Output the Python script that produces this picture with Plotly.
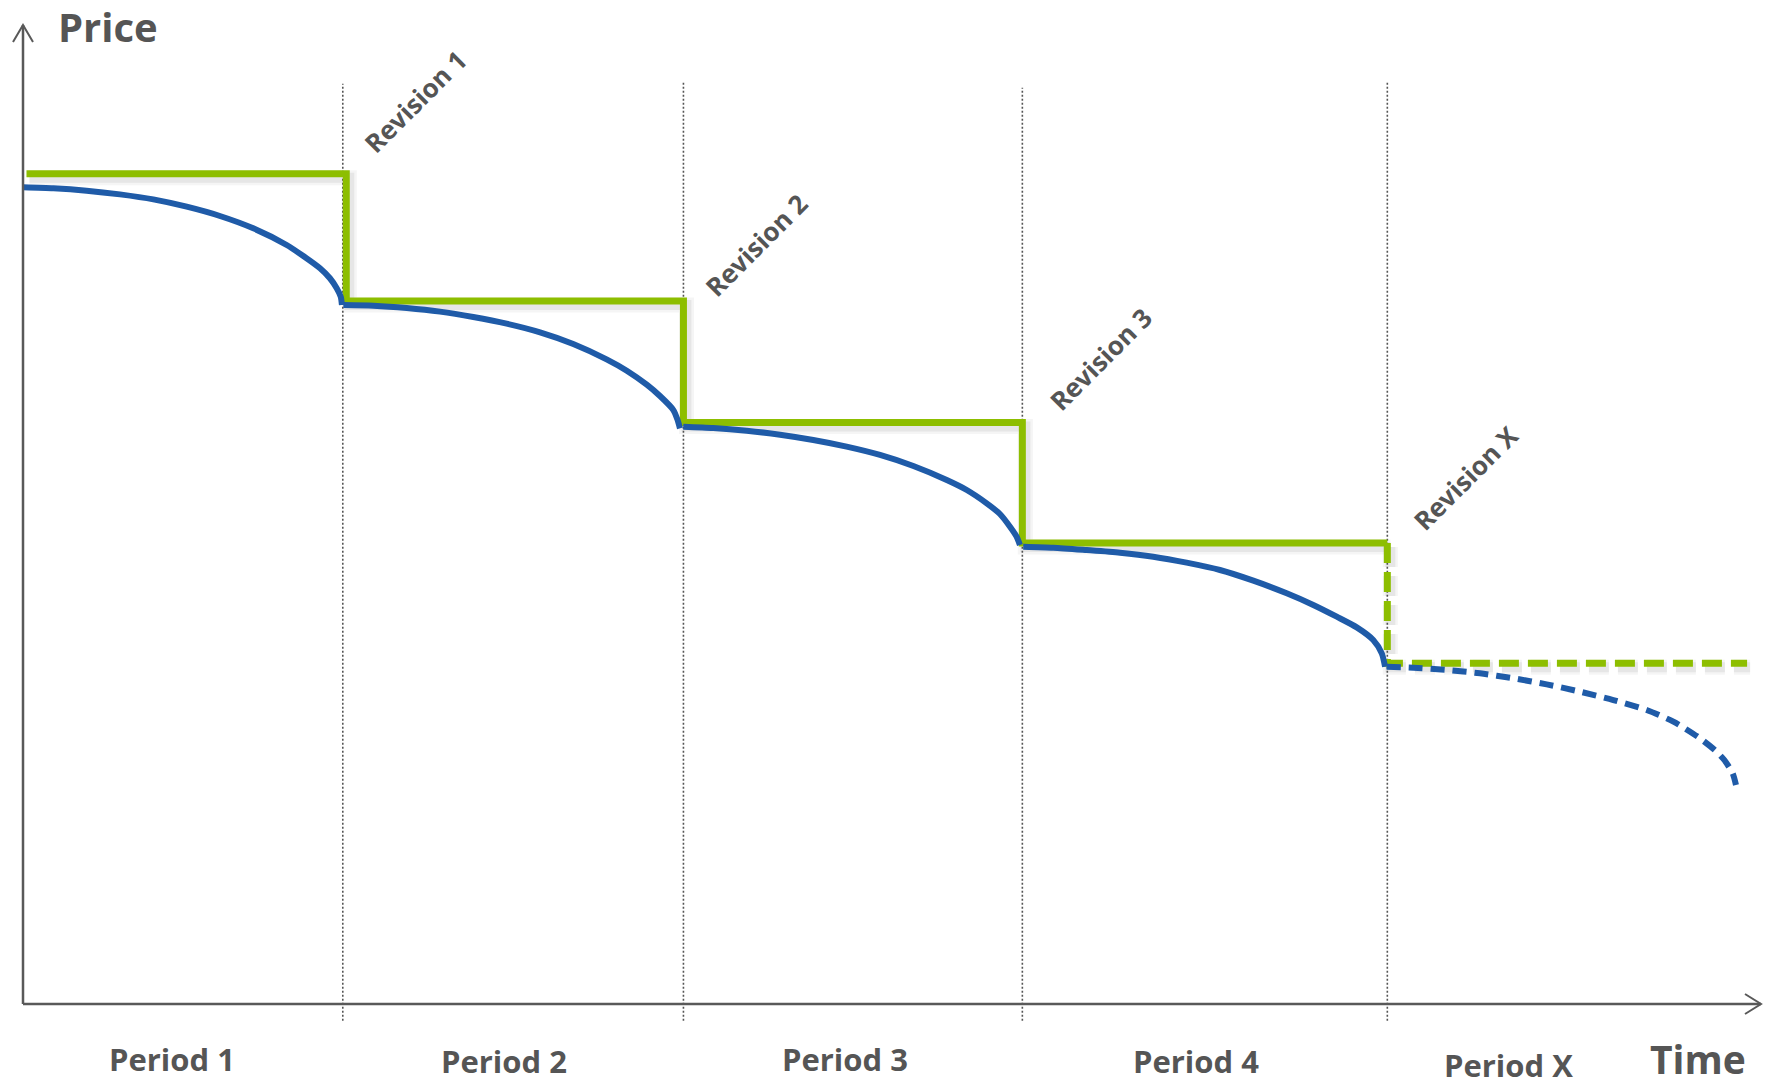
import plotly.graph_objects as go

# ---------------- data (arbitrary time / price units) ----------------
revision_x = [18.4, 38.0, 57.5, 78.5]
revision_top = [94.0, 94.2, 93.6, 94.2]
revision_bottom = -1.7
revision_labels = ["Revision 1", "Revision 2", "Revision 3", "Revision X"]
revision_label_x = [22.6, 42.2, 62.0, 83.0]
revision_label_y = [92.2, 77.5, 65.9, 53.7]

# green list-price step levels
green_step_x = [0.2, 18.6, 38.0, 57.5, 78.5]
green_step_y = [84.8, 71.8, 59.4, 47.1, 34.8]
green_end_x = 99.2

# blue market-price curves, one per period
p1_x = [0.02, 1.75, 3.66, 5.58, 7.50, 9.42, 11.33, 13.25, 15.17, 16.13, 17.09, 17.66, 18.05, 18.28, 18.35]
p1_y = [83.42, 83.32, 83.08, 82.70, 82.19, 81.44, 80.49, 79.23, 77.53, 76.40, 75.15, 74.13, 73.11, 72.25, 71.40]
p2_x = [18.43, 20.16, 22.08, 23.99, 25.91, 27.83, 29.75, 31.66, 33.58, 34.74, 35.89, 36.65, 37.42, 37.65, 37.80]
p2_y = [71.40, 71.33, 71.09, 70.72, 70.17, 69.49, 68.61, 67.42, 65.85, 64.69, 63.26, 62.10, 60.67, 59.72, 58.80]
p3_x = [37.99, 39.72, 41.64, 43.56, 45.47, 47.39, 49.31, 51.23, 53.15, 54.30, 55.45, 56.21, 56.79, 57.17, 57.36]
p3_y = [58.97, 58.84, 58.56, 58.15, 57.61, 56.93, 56.08, 54.95, 53.52, 52.50, 51.14, 50.05, 48.75, 47.73, 46.88]
p4_x = [57.55, 59.28, 61.20, 63.12, 65.03, 66.95, 68.87, 70.79, 72.71, 74.24, 75.59, 76.74, 77.69, 78.18, 78.37]
p4_y = [46.71, 46.61, 46.37, 46.10, 45.69, 45.08, 44.33, 43.24, 41.95, 40.76, 39.56, 38.47, 37.18, 35.82, 34.45]
px_x = [78.46, 79.99, 81.91, 83.83, 85.75, 87.67, 89.59, 91.50, 93.42, 94.96, 96.36, 97.34, 97.89, 98.37, 98.56]
px_y = [34.45, 34.35, 34.12, 33.78, 33.27, 32.65, 31.90, 31.05, 30.03, 28.84, 27.30, 25.94, 24.92, 23.56, 22.37]

period_labels = ["Period 1", "Period 2", "Period 3", "Period 4", "Period X"]
period_label_x = [8.6, 27.7, 47.3, 67.5, 85.5]
period_label_y = [-5.6, -5.8, -5.6, -5.8, -6.2]

# ---------------- geometry / style ----------------
W, H = 1768, 1086
ORIGIN_PX = (23.0, 1004.0)      # pixel position of (0, 0)
PX_PER_X = 17.38
PX_PER_Y = 9.79
x_range = [(0 - ORIGIN_PX[0]) / PX_PER_X, (W - ORIGIN_PX[0]) / PX_PER_X]
y_range = [(ORIGIN_PX[1] - H) / PX_PER_Y, ORIGIN_PX[1] / PX_PER_Y]

GREEN = "#8DBE00"
BLUE = "#1F5BA8"
GREY = "#555555"
AXIS = "#595959"
FONT = "Open Sans"

fig = go.Figure()

# dotted revision lines
for rx, top in zip(revision_x, revision_top):
    fig.add_trace(go.Scatter(x=[rx, rx], y=[revision_bottom, top], mode="lines",
                             line=dict(color=GREY, width=1.6, dash="2px,2px"),
                             hoverinfo="skip", showlegend=False))

# green step line (solid part + dashed future)
gx, gy = [], []
for i in range(len(green_step_x) - 1):
    gx += [green_step_x[i], green_step_x[i + 1]]
    gy += [green_step_y[i], green_step_y[i]]
gx_solid, gy_solid = gx, gy
gdx = [green_step_x[-1], green_step_x[-1], green_end_x]
gdy = [green_step_y[-2], green_step_y[-1], green_step_y[-1]]

# soft shadow for the green line
sdx, sdy = 3.0 / PX_PER_X, -4.0 / PX_PER_Y
for w, a in [(15, 0.05), (10, 0.08)]:
    fig.add_trace(go.Scatter(x=[v + sdx for v in gx_solid], y=[v + sdy for v in gy_solid],
                             mode="lines", line=dict(color=f"rgba(60,60,60,{a})", width=w),
                             hoverinfo="skip", showlegend=False))
    fig.add_trace(go.Scatter(x=[v + sdx for v in gdx], y=[v + sdy for v in gdy],
                             mode="lines", line=dict(color=f"rgba(60,60,60,{a})", width=w, dash="20px,9px"),
                             hoverinfo="skip", showlegend=False))

fig.add_trace(go.Scatter(x=gx_solid, y=gy_solid, mode="lines",
                         line=dict(color=GREEN, width=7), hoverinfo="skip", showlegend=False))
fig.add_trace(go.Scatter(x=gdx, y=gdy, mode="lines",
                         line=dict(color=GREEN, width=7, dash="20px,9px"),
                         hoverinfo="skip", showlegend=False))

# blue curves
for cx, cy in [(p1_x, p1_y), (p2_x, p2_y), (p3_x, p3_y), (p4_x, p4_y)]:
    fig.add_trace(go.Scatter(x=cx, y=cy, mode="lines",
                             line=dict(color=BLUE, width=6, shape="spline", smoothing=0.7),
                             hoverinfo="skip", showlegend=False))
fig.add_trace(go.Scatter(x=px_x, y=px_y, mode="lines",
                         line=dict(color=BLUE, width=6, shape="spline", smoothing=0.7, dash="14px,8px"),
                         hoverinfo="skip", showlegend=False))

# axes with open arrowheads
shapes = [
    dict(type="line", x0=0, y0=0, x1=0, y1=100, line=dict(color=AXIS, width=2.5)),
    dict(type="line", x0=0, y0=0, x1=100, y1=0, line=dict(color=AXIS, width=2.5)),
    dict(type="path", xsizemode="pixel", ysizemode="pixel", xanchor=0, yanchor=100,
         path="M -10 -17 L 0 0 L 10 -17", line=dict(color=AXIS, width=2)),
    dict(type="path", xsizemode="pixel", ysizemode="pixel", xanchor=100, yanchor=0,
         path="M -16 10 L 0 0 L -16 -10", line=dict(color=AXIS, width=2)),
]

annotations = []
for t, ax_, ay_ in zip(revision_labels, revision_label_x, revision_label_y):
    annotations.append(dict(x=ax_, y=ay_, text=t, showarrow=False, textangle=-45,
                            font=dict(family=FONT, size=26, color=GREY, weight="bold")))
for t, ax_, ay_ in zip(period_labels, period_label_x, period_label_y):
    annotations.append(dict(x=ax_, y=ay_, text=t, showarrow=False,
                            font=dict(family=FONT, size=31, color=GREY, weight="bold")))
annotations.append(dict(x=4.9, y=99.8, text="Price", showarrow=False,
                        font=dict(family=FONT, size=40, color=GREY, weight="bold")))
annotations.append(dict(x=96.4, y=-5.6, text="Time", showarrow=False,
                        font=dict(family=FONT, size=39, color=GREY, weight="bold")))

fig.update_layout(
    width=W, height=H,
    margin=dict(l=0, r=0, t=0, b=0),
    paper_bgcolor="white", plot_bgcolor="white",
    xaxis=dict(range=x_range, visible=False, fixedrange=True),
    yaxis=dict(range=y_range, visible=False, fixedrange=True),
    shapes=shapes, annotations=annotations, showlegend=False,
)

fig.write_html("out.html")
